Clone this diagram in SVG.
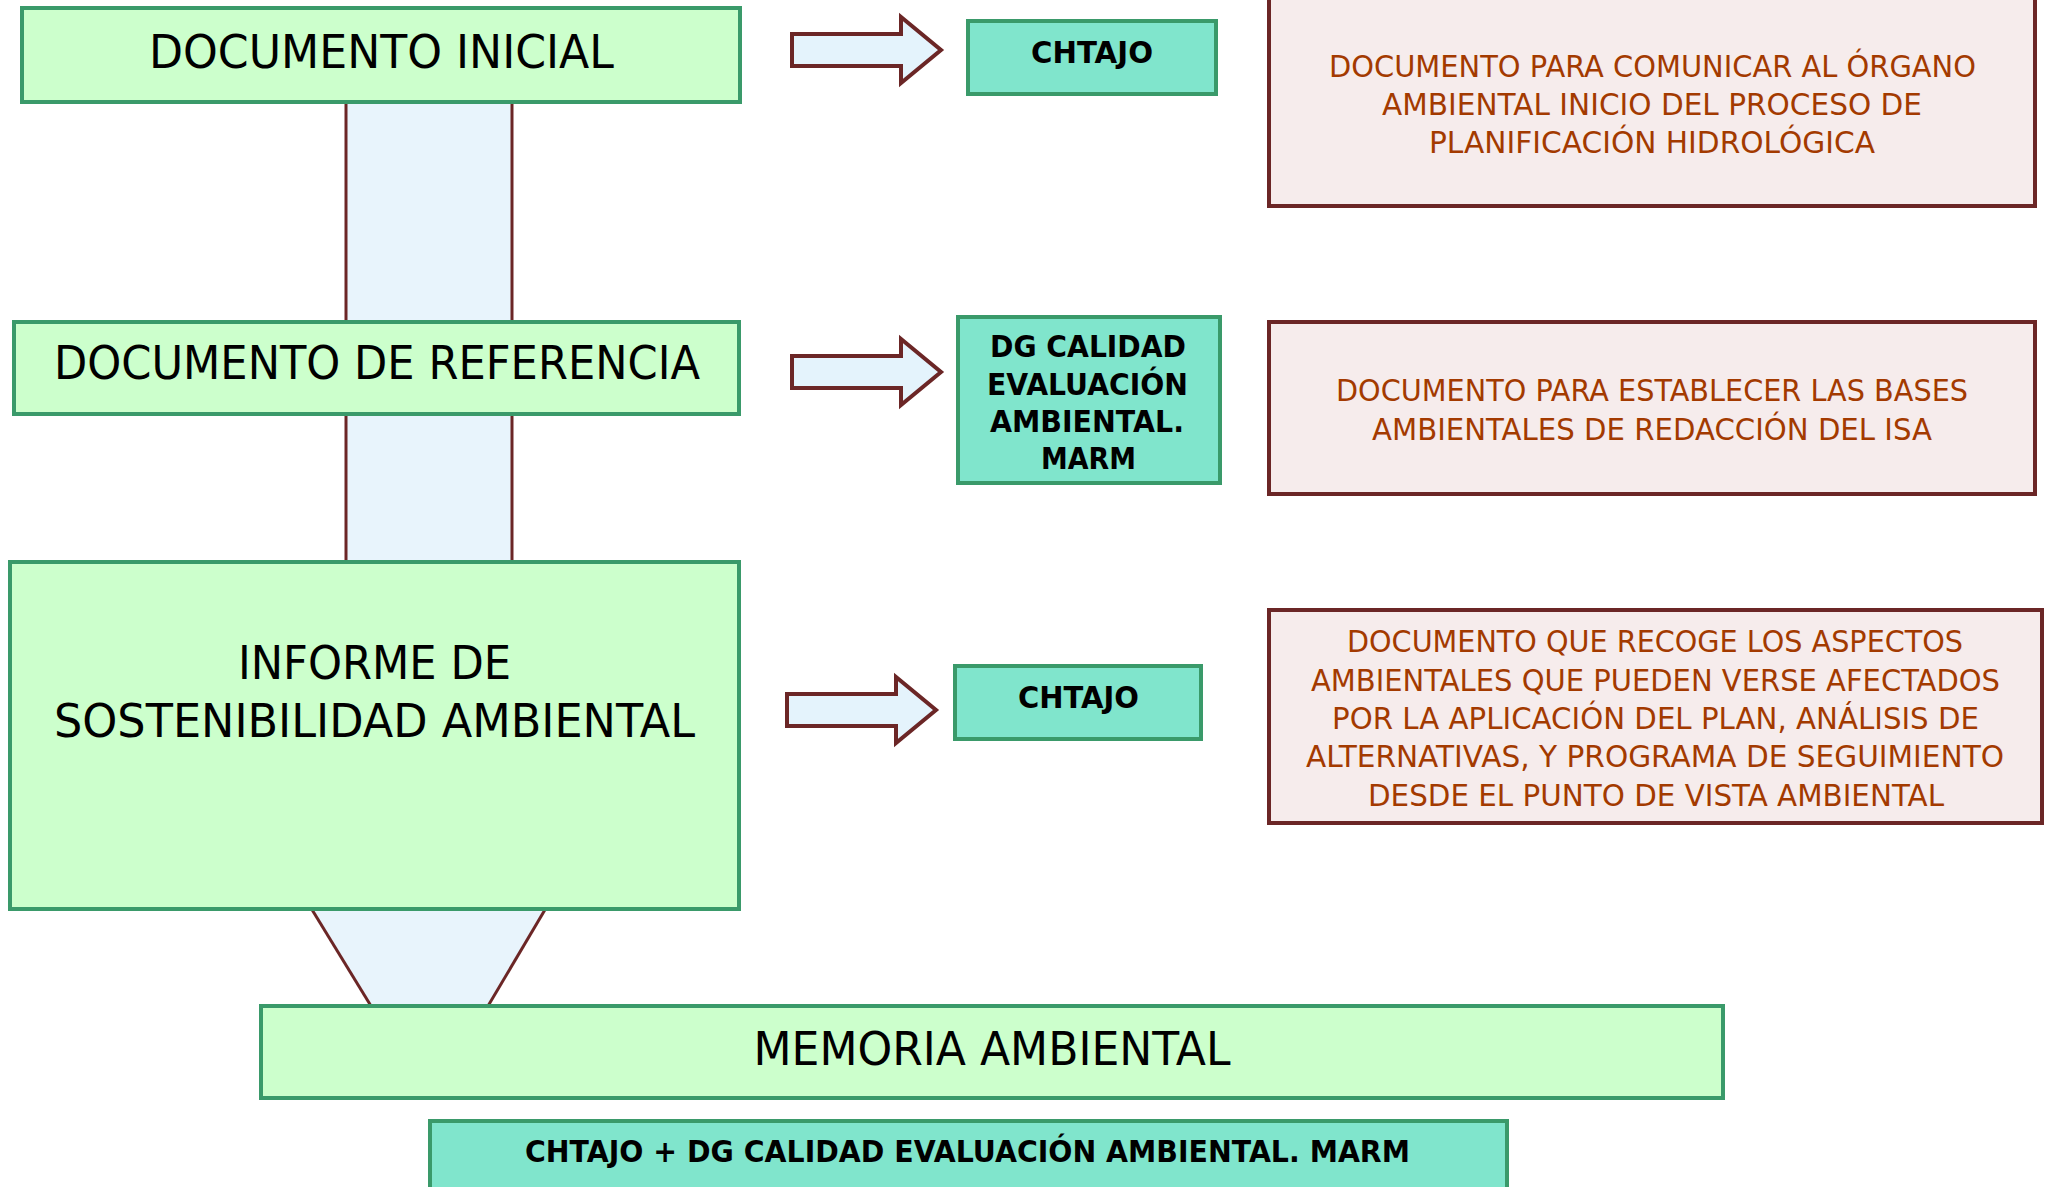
<svg xmlns="http://www.w3.org/2000/svg" width="2053" height="1187" viewBox="0 0 2053 1187">
<defs>
<style>
.main{fill:#ccffcc;stroke:#3a9a6a;stroke-width:4}
.team{fill:#80e5cc;stroke:#3a9a6a;stroke-width:4}
.desc{fill:#f6ecec;stroke:#6b2626;stroke-width:4}
.col{fill:#e8f4fc;stroke:none}
.edge{stroke:#6b2626;stroke-width:3;fill:none}
.arrow{fill:#e4f3fc;stroke:#6b2626;stroke-width:4;stroke-linejoin:miter}
.tm{font-family:"DejaVu Sans","Liberation Sans",sans-serif;font-size:47px;fill:#000;text-anchor:middle}
.tb{font-family:"DejaVu Sans","Liberation Sans",sans-serif;font-size:30px;font-weight:bold;fill:#000;text-anchor:middle}
.td{font-family:"DejaVu Sans","Liberation Sans",sans-serif;font-size:31px;fill:#a33a00;text-anchor:middle}
</style>
<path id="arr" d="M792,34 H901 V17 L941,50 L901,83 V66 H792 Z"/>
</defs>
<rect width="2053" height="1187" fill="#ffffff"/>

<g id="connectors">
  <rect class="col" x="346" y="100" width="166" height="224"/>
  <line class="edge" x1="346" y1="100" x2="346" y2="324"/>
  <line class="edge" x1="512" y1="100" x2="512" y2="324"/>
  <rect class="col" x="346" y="412" width="166" height="152"/>
  <line class="edge" x1="346" y1="412" x2="346" y2="564"/>
  <line class="edge" x1="512" y1="412" x2="512" y2="564"/>
  <polygon class="col" points="311,906 546,906 488,1008 371,1008"/>
  <line class="edge" x1="311" y1="908" x2="371" y2="1006"/>
  <line class="edge" x1="546" y1="908" x2="488" y2="1006"/>
  <use href="#arr" class="arrow"/>
  <use href="#arr" class="arrow" transform="translate(0,322)"/>
  <use href="#arr" class="arrow" transform="translate(-5,660)"/>
</g>

<g id="documento-inicial">
  <rect class="main" x="22" y="8" width="718" height="94"/>
  <text class="tm" x="381.5" y="68" textLength="465" lengthAdjust="spacingAndGlyphs">DOCUMENTO INICIAL</text>
</g>
<g id="documento-referencia">
  <rect class="main" x="14" y="322" width="725" height="92"/>
  <text class="tm" x="377" y="379" textLength="646" lengthAdjust="spacingAndGlyphs">DOCUMENTO DE REFERENCIA</text>
</g>
<g id="informe-sostenibilidad">
  <rect class="main" x="10" y="562" width="729" height="347"/>
  <text class="tm" x="374.5" y="679" textLength="273" lengthAdjust="spacingAndGlyphs">INFORME DE</text>
  <text class="tm" x="374.5" y="737" textLength="641" lengthAdjust="spacingAndGlyphs">SOSTENIBILIDAD AMBIENTAL</text>
</g>
<g id="memoria-ambiental">
  <rect class="main" x="261" y="1006" width="1462" height="92"/>
  <text class="tm" x="992" y="1065" textLength="477" lengthAdjust="spacingAndGlyphs">MEMORIA AMBIENTAL</text>
</g>
<g id="memoria-responsables">
  <rect class="team" x="430" y="1121" width="1077" height="90"/>
  <text class="tb" x="967.5" y="1162" textLength="885" lengthAdjust="spacingAndGlyphs">CHTAJO + DG CALIDAD EVALUACIÓN AMBIENTAL. MARM</text>
</g>

<g id="chtajo-1">
  <rect class="team" x="968" y="21" width="248" height="73"/>
  <text class="tb" x="1092" y="63" textLength="122" lengthAdjust="spacingAndGlyphs">CHTAJO</text>
</g>
<g id="dg-calidad">
  <rect class="team" x="958" y="317" width="262" height="166"/>
  <text class="tb" x="1088" y="357" textLength="196" lengthAdjust="spacingAndGlyphs">DG CALIDAD</text>
  <text class="tb" x="1087.5" y="395" textLength="201" lengthAdjust="spacingAndGlyphs">EVALUACIÓN</text>
  <text class="tb" x="1087" y="432" textLength="194" lengthAdjust="spacingAndGlyphs">AMBIENTAL.</text>
  <text class="tb" x="1088.5" y="469" textLength="95" lengthAdjust="spacingAndGlyphs">MARM</text>
</g>
<g id="chtajo-3">
  <rect class="team" x="955" y="666" width="246" height="73"/>
  <text class="tb" x="1078.5" y="708" textLength="121" lengthAdjust="spacingAndGlyphs">CHTAJO</text>
</g>

<g id="desc-1">
  <rect class="desc" x="1269" y="-10" width="766" height="216"/>
  <text class="td" x="1652.5" y="77" textLength="647" lengthAdjust="spacingAndGlyphs">DOCUMENTO PARA COMUNICAR AL ÓRGANO</text>
  <text class="td" x="1652" y="115" textLength="540" lengthAdjust="spacingAndGlyphs">AMBIENTAL INICIO DEL PROCESO DE</text>
  <text class="td" x="1652" y="153" textLength="446" lengthAdjust="spacingAndGlyphs">PLANIFICACIÓN HIDROLÓGICA</text>
</g>
<g id="desc-2">
  <rect class="desc" x="1269" y="322" width="766" height="172"/>
  <text class="td" x="1652" y="401" textLength="632" lengthAdjust="spacingAndGlyphs">DOCUMENTO PARA ESTABLECER LAS BASES</text>
  <text class="td" x="1652" y="440" textLength="560" lengthAdjust="spacingAndGlyphs">AMBIENTALES DE REDACCIÓN DEL ISA</text>
</g>
<g id="desc-3">
  <rect class="desc" x="1269" y="610" width="773" height="213"/>
  <text class="td" x="1655" y="652" textLength="616" lengthAdjust="spacingAndGlyphs">DOCUMENTO QUE RECOGE LOS ASPECTOS</text>
  <text class="td" x="1655.5" y="691" textLength="689" lengthAdjust="spacingAndGlyphs">AMBIENTALES QUE PUEDEN VERSE AFECTADOS</text>
  <text class="td" x="1655.5" y="729" textLength="647" lengthAdjust="spacingAndGlyphs">POR LA APLICACIÓN DEL PLAN, ANÁLISIS DE</text>
  <text class="td" x="1655" y="767" textLength="698" lengthAdjust="spacingAndGlyphs">ALTERNATIVAS, Y PROGRAMA DE SEGUIMIENTO</text>
  <text class="td" x="1656" y="806" textLength="576" lengthAdjust="spacingAndGlyphs">DESDE EL PUNTO DE VISTA AMBIENTAL</text>
</g>
</svg>
